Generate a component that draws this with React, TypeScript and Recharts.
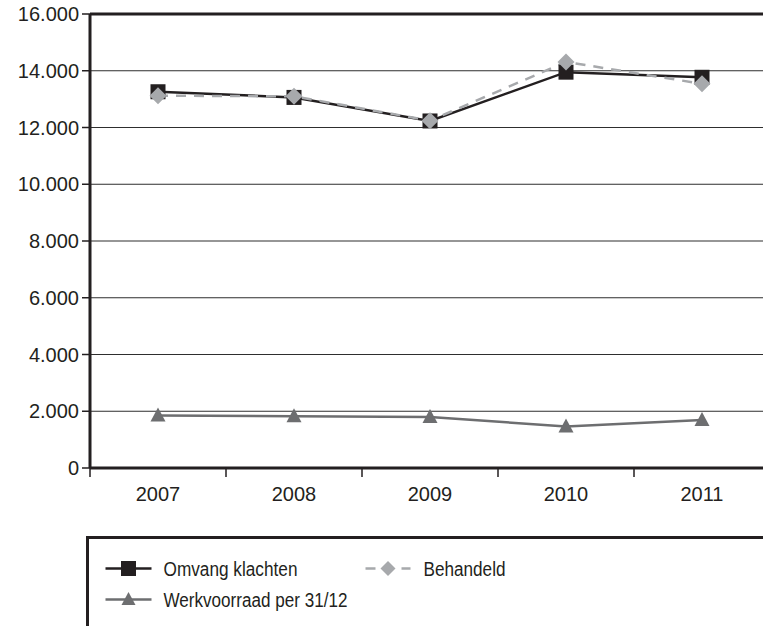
import React from 'react'
import {
  LineChart, Line, XAxis, YAxis, CartesianGrid, Legend, ReferenceLine,
} from 'recharts'

const years = ['2007', '2008', '2009', '2010', '2011']
const omvangKlachten = [13260, 13060, 12230, 13950, 13770]
const behandeld = [13120, 13100, 12240, 14310, 13540]
const werkvoorraad = [1850, 1820, 1800, 1460, 1690]
const yTicks = [0, 2000, 4000, 6000, 8000, 10000, 12000, 14000, 16000]
// year positions plus the band boundaries between them
const xTicks = [-0.5, 0, 0.5, 1, 1.5, 2, 2.5, 3, 3.5, 4, 4.5]

const data = years.map((year, idx) => ({
  idx,
  year,
  omvang: omvangKlachten[idx],
  behandeld: behandeld[idx],
  werkvoorraad: werkvoorraad[idx],
}))

const DARK = '#231f20'
const LIGHT = '#a7a9ac'
const MID = '#6d6e70'
const FONT = '"Liberation Sans", Arial, sans-serif'
const TICK_SIZE = 9
const TICK_MARGIN = 9.5

const fmt = (v: number) => String(v).replace(/\B(?=(\d{3})+(?!\d))/g, '.')

const square = (p: any) => (
  <rect key={`sq-${p.index}`} x={p.cx - 7.5} y={p.cy - 7.5} width={15} height={15} fill={DARK} />
)
const diamond = (p: any) => (
  <path key={`dm-${p.index}`} d={`M${p.cx},${p.cy - 8.5}L${p.cx + 8.5},${p.cy}L${p.cx},${p.cy + 8.5}L${p.cx - 8.5},${p.cy}Z`} fill={LIGHT} />
)
const triangle = (p: any) => (
  <path key={`tr-${p.index}`} d={`M${p.cx},${p.cy - 8}L${p.cx + 7.5},${p.cy + 6}L${p.cx - 7.5},${p.cy + 6}Z`} fill={MID} />
)

function YearTick(props: any) {
  const { x, y, payload } = props
  const v = payload.value
  if (Number.isInteger(v)) {
    return (
      <text x={x} y={y} dy="0.71em" textAnchor="middle" fill={DARK} style={{ fontSize: 20, fontFamily: FONT }}>
        {years[v]}
      </text>
    )
  }
  return <line x1={x} x2={x} y1={y - TICK_MARGIN - TICK_SIZE} y2={y - TICK_MARGIN} stroke={DARK} strokeWidth={1.5} />
}

function LegendBox() {
  const txt = { fontFamily: FONT, fontSize: 20, fill: DARK }
  return (
    <div style={{ width: 690, height: 100, borderTop: `3px solid ${DARK}`, borderLeft: `3px solid ${DARK}`, boxSizing: 'border-box' }}>
      <svg width={687} height={97} style={{ display: 'block', overflow: 'visible', marginLeft: -3, marginTop: -3 }}>
        <line x1={19.5} x2={65.5} y1={32.5} y2={32.5} stroke={DARK} strokeWidth={2.5} />
        <rect x={35} y={25} width={15} height={15} fill={DARK} />
        <text x={77.5} y={32.5} dominantBaseline="central" textLength={134} lengthAdjust="spacingAndGlyphs" style={txt}>Omvang klachten</text>

        <line x1={279.5} x2={324.5} y1={32.5} y2={32.5} stroke={LIGHT} strokeWidth={2.5} strokeDasharray="10 8" />
        <path d="M302,25L309.5,32.5L302,40L294.5,32.5Z" fill={LIGHT} />
        <text x={337.5} y={32.5} dominantBaseline="central" textLength={82} lengthAdjust="spacingAndGlyphs" style={txt}>Behandeld</text>

        <line x1={19.5} x2={65.5} y1={63.5} y2={63.5} stroke={MID} strokeWidth={2.5} />
        <path d="M42.5,56L49.5,69L35.5,69Z" fill={MID} />
        <text x={77.5} y={63.5} dominantBaseline="central" textLength={184} lengthAdjust="spacingAndGlyphs" style={txt}>Werkvoorraad per 31/12</text>
      </svg>
    </div>
  )
}

export default function App() {
  return (
    <div style={{ position: 'absolute', left: 0, top: 0, width: 763, height: 626, overflow: 'hidden', background: '#fff' }}>
      <LineChart width={780} height={626} data={data} margin={{ top: 14, right: 10, left: 0, bottom: 118 }}>
        <CartesianGrid vertical={false} stroke="#2e2e2e" strokeWidth={1.2} />
        <XAxis
          dataKey="idx"
          type="number"
          domain={[-0.5, 4.5]}
          ticks={xTicks}
          allowDataOverflow
          interval={0}
          tick={<YearTick />}
          tickSize={TICK_SIZE}
          tickMargin={TICK_MARGIN}
          tickLine={{ stroke: 'none' }}
          axisLine={{ stroke: DARK, strokeWidth: 3 }}
          height={40}
        />
        <YAxis
          domain={[0, 16000]}
          ticks={yTicks}
          tickFormatter={fmt}
          width={90}
          tick={{ fontSize: 20, fill: DARK, fontFamily: FONT }}
          tickSize={8}
          tickMargin={3}
          tickLine={{ stroke: DARK, strokeWidth: 1.5 }}
          axisLine={{ stroke: DARK, strokeWidth: 3 }}
        />
        <ReferenceLine y={16000} stroke={DARK} strokeWidth={3} />
        <Line dataKey="werkvoorraad" name="Werkvoorraad per 31/12" stroke={MID} strokeWidth={2.5} dot={triangle} isAnimationActive={false} />
        <Line dataKey="omvang" name="Omvang klachten" stroke={DARK} strokeWidth={2.5} dot={square} isAnimationActive={false} />
        <Line dataKey="behandeld" name="Behandeld" stroke={LIGHT} strokeWidth={2.5} strokeDasharray="10 8" dot={diamond} isAnimationActive={false} />
        <Legend
          verticalAlign="middle"
          align="center"
          content={() => <LegendBox />}
          wrapperStyle={{ left: 85.5, top: 535.5, width: 690, height: 100 }}
        />
      </LineChart>
    </div>
  )
}
